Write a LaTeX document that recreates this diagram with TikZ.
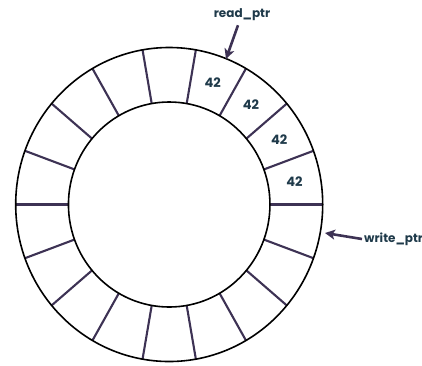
\documentclass[tikz,border=0pt]{standalone}
\usepackage{fontspec}
\setmainfont{Poppins}
\usetikzlibrary{arrows.meta}
\definecolor{txtc}{HTML}{1F3A4A}
\definecolor{divc}{HTML}{3D3254}
\tikzset{
  ringline/.style={line width=1.6pt, draw=black},
  divider/.style={line width=2.1pt, draw=divc},
  ptrarrow/.style={line width=2.6pt, draw=divc, -{Stealth[length=10pt,width=10pt,inset=2.5pt]}},
  lbl/.style={font=\fontsize{12}{14}\selectfont\bfseries, text=txtc, inner sep=0pt},
  val/.style={font=\fontsize{13}{15}\selectfont\bfseries, text=txtc, inner sep=0pt}
}
\begin{document}
\begin{tikzpicture}[x=1pt,y=-1pt]
\useasboundingbox (0,0) rectangle (422,365);
\def\cx{169.2}\def\cy{204.5}
\def\rix{100.75}\def\riy{102.5}
\def\rox{153.5}\def\roy{157}
\foreach \a in {0,20,...,340}
  \draw[divider] ({\cx+\rix*cos(\a)},{\cy-\riy*sin(\a)}) -- ({\cx+\rox*cos(\a)},{\cy-\roy*sin(\a)});
\draw[ringline] (\cx,\cy) ellipse [x radius=153.5pt, y radius=157pt];
\draw[ringline] (\cx,\cy) ellipse [x radius=100.75pt, y radius=102.5pt];
\foreach \a/\n in {70/v1,50/v2,30/v3,10/v4}
  \node[val] (\n) at ({\cx+127.1*cos(\a)},{\cy-129.7*sin(\a)}) {42};
\node[lbl] (read) at (242,15) {read\_ptr};
\node[lbl, anchor=west] (write) at (364,239) {write\_ptr};
\coordinate (readtip) at (226,59);
\coordinate (writetip) at (325,233);
\draw[ptrarrow] (read.south) ++(-4,4) coordinate (readstart) -- (readtip);
\draw[ptrarrow] (write.west) ++(-2,0) coordinate (writestart) -- (writetip);
\end{tikzpicture}
\end{document}
